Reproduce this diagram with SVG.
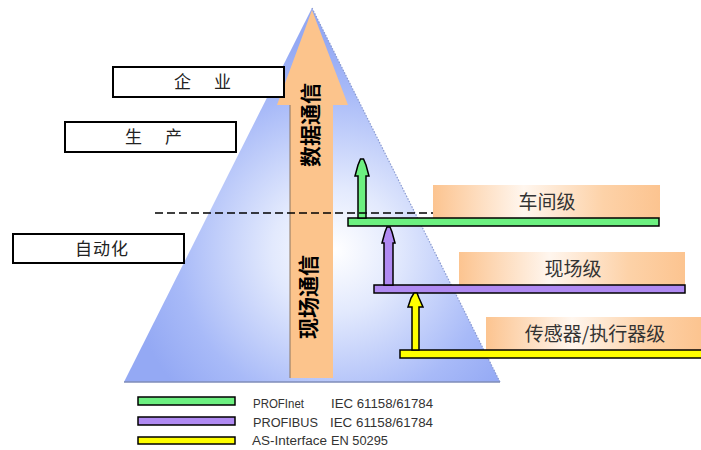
<svg xmlns="http://www.w3.org/2000/svg" width="701" height="450" viewBox="0 0 701 450">
<defs>
<radialGradient id="pyr" gradientUnits="userSpaceOnUse" cx="335" cy="250" r="210">
<stop offset="0" stop-color="#ffffff"/>
<stop offset="0.3" stop-color="#e2e9fd"/>
<stop offset="0.75" stop-color="#a8baf8"/>
<stop offset="1" stop-color="#94a9f4"/>
</radialGradient>
<linearGradient id="org" x1="0" y1="0" x2="1" y2="0">
<stop offset="0" stop-color="#fcc490"/>
<stop offset="0.4" stop-color="#fff6ee"/>
<stop offset="0.75" stop-color="#fdd2a8"/>
<stop offset="1" stop-color="#fcc490"/>
</linearGradient>
<style>
.lbox{fill:#fff;stroke:#000;stroke-width:2}
.ltxt{font-family:"Noto Sans CJK SC","Noto Sans CJK JP",sans-serif;font-size:17px;fill:#222;text-anchor:middle}
.rbox{fill:url(#org)}
.rtxt{font-family:"Noto Sans CJK SC","Noto Sans CJK JP",sans-serif;font-size:19px;fill:#333;text-anchor:middle}
.vtxt{font-family:"Noto Sans CJK SC","Noto Sans CJK JP",sans-serif;font-size:21px;font-weight:bold;fill:#000;text-anchor:middle}
.bar{stroke:#000;stroke-width:1.5}
.leg{font-family:"Liberation Sans",Arial,sans-serif;font-size:12px;fill:#333}
.g{fill:#6cf080}
.p{fill:#b08af2}
.y{fill:#ffff00}
</style>
</defs>
<g id="pyramid">
<polygon points="312,8 124,382 500,382" fill="url(#pyr)"/>
<line x1="312" y1="8" x2="500" y2="382" stroke="#8a9ad0" stroke-width="1.2" stroke-dasharray="1.5 1.5"/>
<line x1="124" y1="382" x2="500" y2="382" stroke="#7f8cb8" stroke-width="1.5"/>
</g>
<g id="data-arrow">
<polygon points="312,10 348,105 333,105 333,378 290,378 290,105 277,105" fill="#fcc48c"/>
<line x1="290" y1="105" x2="290" y2="378" stroke="#8a7560" stroke-width="1"/>
<text class="vtxt" transform="translate(318,125) rotate(-90)">数据通信</text>
<text class="vtxt" transform="translate(316,297) rotate(-90)">现场通信</text>
</g>
<g id="enterprise">
<rect class="lbox" x="113" y="67" width="171" height="30"/>
<text class="ltxt" x="204" y="88" letter-spacing="3">企　业</text>
</g>
<g id="production">
<rect class="lbox" x="65" y="122" width="171" height="30"/>
<text class="ltxt" x="155" y="143" letter-spacing="3">生　产</text>
</g>
<g id="automation">
<rect class="lbox" x="13" y="234" width="171" height="29"/>
<text class="ltxt" x="102" y="255" letter-spacing="1" font-size="18">自动化</text>
</g>
<g id="workshop">
<rect class="rbox" x="433" y="185" width="227" height="33"/>
<text class="rtxt" x="547" y="209">车间级</text>
</g>
<g id="field">
<rect class="rbox" x="459" y="252" width="226" height="33"/>
<text class="rtxt" x="573" y="276">现场级</text>
</g>
<g id="sensor">
<rect class="rbox" x="486" y="317" width="215" height="33"/>
<text class="rtxt" x="595" y="341">传感器/执行器级</text>
</g>
<g id="connectors">
<rect class="bar g" x="348" y="218" width="311" height="8"/>
<rect class="bar p" x="374" y="285" width="311" height="8"/>
<rect class="bar y" x="400" y="350" width="305" height="8"/>
<polygon class="bar g" points="360.5,159 363.5,159 366,165 369,176 366,176 366,218 358,218 358,176 355,176 358,165"/>
<polygon class="bar p" points="387,227 390,227 392,232 395,243 393,243 393,285 384,285 384,243 382,243 385,232"/>
<polygon class="bar y" points="414,293 417,293 419,298 423,307 419,307 419,350 412,350 412,307 408,307 411,298"/>
<line x1="155" y1="213" x2="433" y2="213" stroke="#000" stroke-width="1.5" stroke-dasharray="8 4"/>
</g>
<g id="legend">
<rect class="bar g" x="138" y="397" width="97" height="8"/>
<rect class="bar p" x="138" y="417" width="97" height="8"/>
<rect class="bar y" x="138" y="437" width="97" height="7"/>
<text class="leg" x="253" y="408" textLength="51" lengthAdjust="spacingAndGlyphs">PROFInet</text>
<text class="leg" x="331" y="408" textLength="102" lengthAdjust="spacingAndGlyphs">IEC 61158/61784</text>
<text class="leg" x="253" y="427" textLength="65" lengthAdjust="spacingAndGlyphs">PROFIBUS</text>
<text class="leg" x="330" y="427" textLength="103" lengthAdjust="spacingAndGlyphs">IEC 61158/61784</text>
<text class="leg" x="252" y="445" textLength="75" lengthAdjust="spacingAndGlyphs">AS-Interface</text>
<text class="leg" x="331" y="445" textLength="57" lengthAdjust="spacingAndGlyphs">EN 50295</text>
</g>
</svg>
